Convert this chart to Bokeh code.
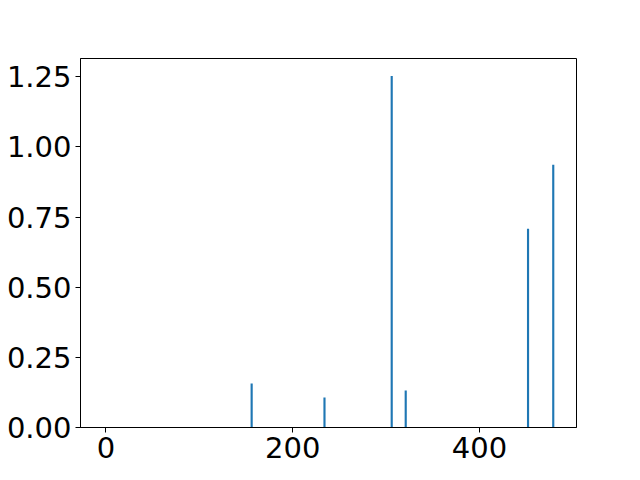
from bokeh.plotting import figure
from bokeh.models import Label, Range1d, FixedTicker
from bokeh.embed import file_html
from bokeh.resources import INLINE

# data
freqs = [156, 234, 306, 321, 452, 479]
intensities = [0.157, 0.107, 1.253, 0.132, 0.708, 0.936]
x_ticks = [0, 200, 400]
y_ticks = [0.0, 0.25, 0.5, 0.75, 1.0, 1.25]
y_tick_labels = {0.0: "0.00", 0.25: "0.25", 0.5: "0.50", 0.75: "0.75", 1.0: "1.00", 1.25: "1.25"}
x_label = "Frequency (cm\u207b\u00b9)"

FONT = "DejaVu Sans"
FS = "29px"

p = figure(width=632, height=472,
           min_border_left=80, min_border_top=58, min_border_right=56, min_border_bottom=45,
           x_range=Range1d(-27.3, 503.9), y_range=Range1d(0, 1.315),
           output_backend="svg", toolbar_location=None)

p.vbar(x=freqs, top=intensities, bottom=0, width=2.3, color="#1f77b4", line_width=0)

p.grid.visible = False
p.outline_line_color = "black"
p.outline_line_width = 1
p.background_fill_color = "white"
p.border_fill_color = "white"

for ax in (p.xaxis[0], p.yaxis[0]):
    ax.major_label_text_font = FONT
    ax.major_label_text_font_size = FS
    ax.major_label_text_color = "black"
    ax.major_tick_out = 5
    ax.major_tick_in = 0
    ax.minor_tick_out = 0
    ax.minor_tick_in = 0
    ax.major_label_standoff = 4
    ax.axis_line_color = "black"
    ax.major_tick_line_color = "black"

p.xaxis.ticker = FixedTicker(ticks=x_ticks)
p.yaxis.ticker = FixedTicker(ticks=y_ticks)
p.yaxis.major_label_overrides = y_tick_labels

# x-axis title sits below the window edge in the reference (only its top shows)
lab = Label(x=248, y=-66, x_units="screen", y_units="screen", text=x_label,
            text_font=FONT, text_font_size=FS, text_align="center",
            text_baseline="alphabetic", text_color="black")
p.add_layout(lab)

open("out.html", "w").write(file_html(p, INLINE))
